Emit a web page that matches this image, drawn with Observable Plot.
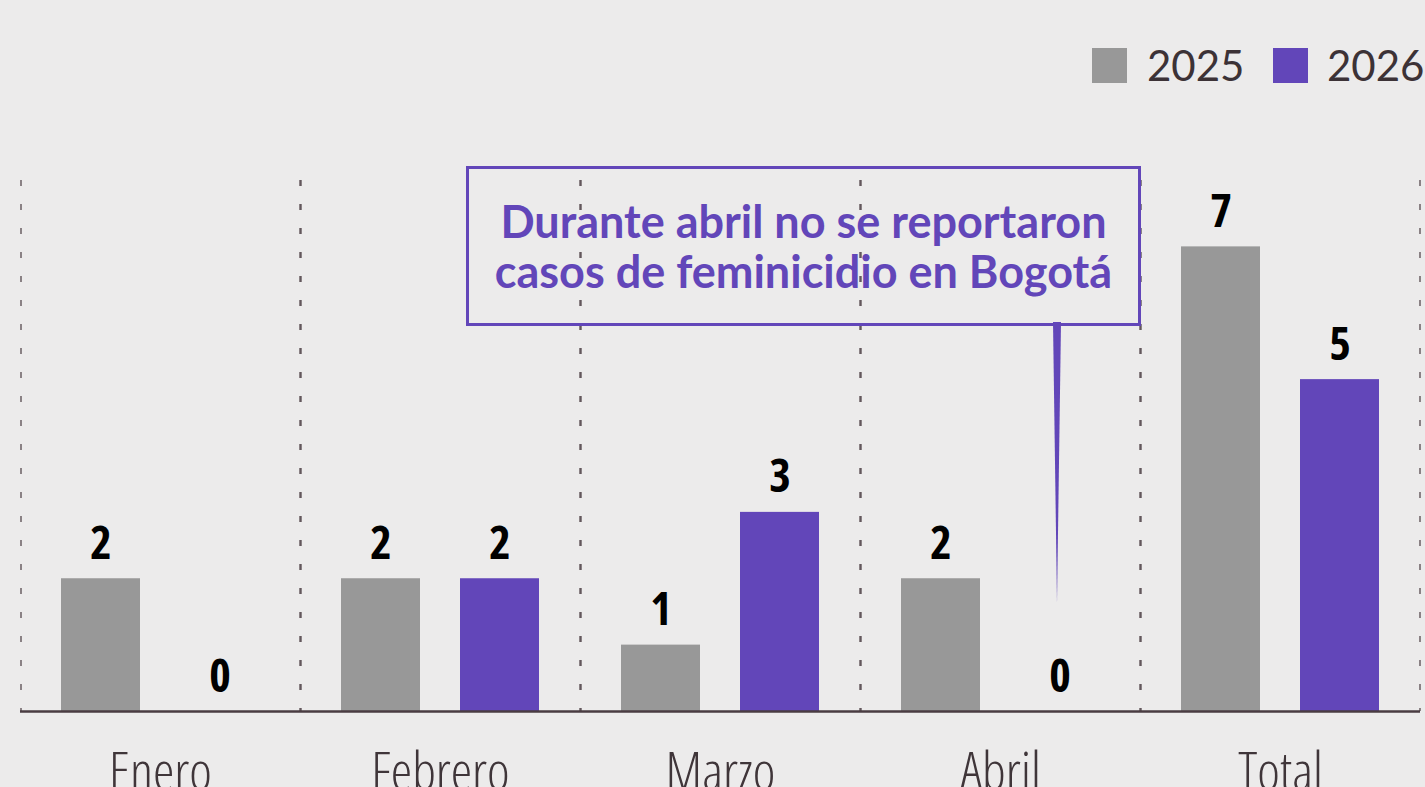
<!DOCTYPE html>
<html>
<head>
<meta charset="utf-8">
<script src="https://cdn.jsdelivr.net/npm/d3@7"></script>
<script src="https://cdn.jsdelivr.net/npm/@observablehq/plot@0.6"></script>
<style>
  html, body { margin: 0; padding: 0; }
  body { width: 1425px; height: 787px; overflow: hidden; position: relative; background: #ecebeb; }
  #legend { position: relative; height: 110px; width: 1425px; font-family: Lato, "Noto Sans", sans-serif; color: #3c3236; }
  .lg-sw { position: absolute; top: 48px; width: 35px; height: 35px; }
  .lg-tx { position: absolute; top: 40px; font-size: 42px; line-height: 50px; }
  #callout { position: absolute; left: 466px; top: 166px; width: 669px; height: 154px; border: 3px solid #6246b9;
    display: flex; align-items: center; justify-content: center; text-align: center;
    font-family: Lato, "Noto Sans", sans-serif; font-weight: bold; font-size: 45px; line-height: 50px; color: #6246b9; }
  #pointer { position: absolute; left: 0; top: 0; pointer-events: none; }
  #chart svg { display: block; }
</style>
</head>
<body>
<div id="legend"></div>
<div id="chart"></div>
<div id="callout">Durante abril no se reportaron<br>casos de feminicidio en Bogotá</div>
<svg id="pointer" width="1425" height="787"></svg>
<script>
const months = ["Enero", "Febrero", "Marzo", "Abril", "Total"];
const years = ["2025", "2026"];
const values2025 = [2, 2, 1, 2, 7];
const values2026 = [0, 2, 3, 0, 5];
const colors = ["#989898", "#6246b9"];

const data = months.flatMap((m, i) => [
  {month: m, year: years[0], value: values2025[i]},
  {month: m, year: years[1], value: values2026[i]}
]);

// legend
const legend = document.getElementById("legend");
const legendPos = [{sw: 1092, tx: 1147}, {sw: 1273, tx: 1327}];
years.forEach((y, i) => {
  const s = document.createElement("div");
  s.className = "lg-sw"; s.style.left = legendPos[i].sw + "px"; s.style.background = colors[i];
  const t = document.createElement("div");
  t.className = "lg-tx"; t.style.left = legendPos[i].tx + "px"; t.textContent = y;
  legend.appendChild(s); legend.appendChild(t);
});

const chart = Plot.plot({
  width: 1425,
  height: 677,
  marginLeft: 20,
  marginRight: 5,
  marginTop: 70,
  marginBottom: 76,
  style: {background: "transparent", overflow: "visible"},
  facet: {data, x: "month"},
  fx: {domain: months, padding: 0, axis: "bottom", tickSize: 0, tickPadding: 40, label: null},
  x: {domain: years, padding: 1/3, axis: null},
  y: {domain: [0, 8], axis: null},
  color: {domain: years, range: colors},
  marks: [
    Plot.ruleX([years[0]], {x: d => d, dx: -80, stroke: "#4a3c42", strokeWidth: 1.2, strokeDasharray: "6,18"}),
    Plot.ruleX([years[1]], {x: d => d, dx: 80, stroke: "#4a3c42", strokeWidth: 1.2, strokeDasharray: "6,18"}),
    Plot.barY(data, {x: "year", y: "value", fill: "year"}),
    Plot.ruleY([0], {stroke: "#4a3c42", strokeWidth: 2.5}),
    Plot.text(data, {x: "year", y: "value", text: d => String(d.value), dy: -20, lineAnchor: "bottom",
      fontSize: 46, fontWeight: "bold", fontFamily: "'Open Sans', sans-serif", fill: "#000"})
  ]
});
document.getElementById("chart").appendChild(chart);

d3.select(chart).selectAll('g[aria-label="text"] text')
  .style("font-stretch", "75%");

d3.select(chart).selectAll('[aria-label^="fx-axis"] text')
  .style("font-size", "54px")
  .style("font-family", "'Open Sans', sans-serif")
  .style("font-weight", "300")
  .style("font-stretch", "75%")
  .style("fill", "#3f3539");

// pointer of the callout, aimed at the Abril 2026 bar
const px = 1057;
d3.select("#pointer").append("polygon")
  .attr("points", `${px - 4},322 ${px + 4},322 ${px},603`)
  .attr("fill", "#6246b9");
</script>
</body>
</html>
